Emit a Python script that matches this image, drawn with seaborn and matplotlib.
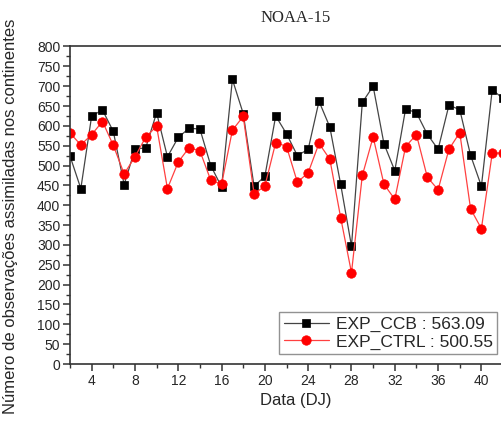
import matplotlib
matplotlib.use("Agg")
import matplotlib.pyplot as plt
from matplotlib.ticker import MultipleLocator
import numpy as np
import pandas as pd
import seaborn as sns

# Julian day of each observation window
days = list(range(2, 43))

# Assimilated observations over land, per experiment
exp_ccb = [524, 442, 625, 640, 586, 452, 541, 545, 633, 522,
           571, 594, 592, 500, 446, 717, 631, 448, 473, 625,
           580, 525, 541, 662, 597, 453, 297, 659, 700, 555,
           487, 643, 633, 579, 541, 652, 641, 526, 448, 691,
           669]
exp_ctrl = [582, 552, 578, 611, 551, 479, 522, 572, 599, 442,
            509, 545, 537, 463, 453, 589, 624, 429, 448, 558,
            548, 458, 482, 556, 516, 369, 230, 475, 572, 453,
            415, 548, 578, 471, 439, 541, 583, 391, 341, 531,
            532]

labels = ["EXP_CCB : 563.09", "EXP_CTRL : 500.55"]

df = pd.DataFrame({"dia": days, "ccb": exp_ccb, "ctrl": exp_ctrl})

sns.set_style("ticks")
plt.rcParams["font.family"] = ["Liberation Sans", "DejaVu Sans"]

fig = plt.figure(figsize=(5.01, 4.23), dpi=100)
# axes run slightly past the right edge of the canvas
ax = fig.add_axes([70 / 501, 59 / 423, 452 / 501, 317.5 / 423])

sns.lineplot(data=df, x="dia", y="ccb", ax=ax, color="#444444", lw=0.9,
             marker="s", markersize=5.8, markeredgecolor="black",
             markeredgewidth=0.5, markerfacecolor="black", label=labels[0])
sns.lineplot(data=df, x="dia", y="ctrl", ax=ax, color="#ff4040", lw=0.9,
             marker="o", markersize=6.8, markeredgecolor="#ff0000",
             markeredgewidth=0.5, markerfacecolor="#ff0000", label=labels[1])

ax.set_xlim(2, 43.75)
ax.set_ylim(0, 800)
ax.xaxis.set_minor_locator(MultipleLocator(2))
ax.yaxis.set_major_locator(MultipleLocator(50))
ax.yaxis.set_minor_locator(MultipleLocator(25))
ax.set_xticks([t for t in range(4, 44, 4)])

for side in ["left", "bottom", "top"]:
    ax.spines[side].set_visible(True)
    ax.spines[side].set_color("#333333")
    ax.spines[side].set_linewidth(1.2)
ax.spines["right"].set_visible(False)

ax.tick_params(axis="both", which="major", direction="out", length=5,
               width=1.1, color="#333333", labelsize=10, pad=2,
               top=False, right=False)
ax.tick_params(axis="both", which="minor", direction="out", length=3,
               width=1.0, color="#333333", top=False, right=False)

ax.set_xlabel("Data (DJ)", fontsize=12, labelpad=4)
ax.set_ylabel("Número de observações assimiladas nos continentes",
              fontsize=12, labelpad=6)
ax.yaxis.set_label_coords(-0.115, 0.465)

fig.text(296 / 501, 1 - 18 / 423, "NOAA-15", ha="center", va="center",
         fontsize=12, family="Liberation Serif")

leg = ax.legend(loc="lower right", bbox_to_anchor=(497 / 501, 69 / 423),
                bbox_transform=fig.transFigure, borderaxespad=0,
                fontsize=12.5, frameon=True, fancybox=False,
                handlelength=2.6, handletextpad=0.4, borderpad=0.25,
                labelspacing=0.15)
leg.get_frame().set_edgecolor("#777777")
leg.get_frame().set_linewidth(1.0)

fig.savefig("out.png", dpi=100)
